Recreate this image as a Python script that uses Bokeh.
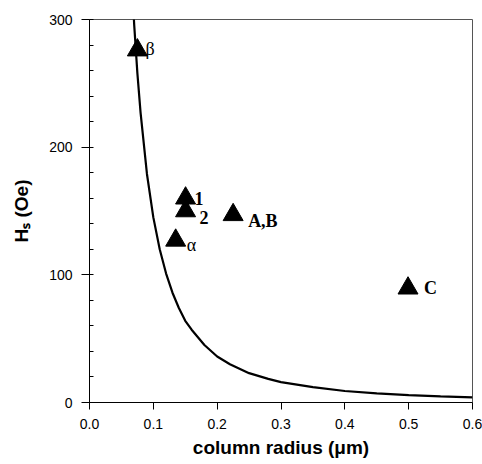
import math
from bokeh.plotting import figure
from bokeh.models import (Range1d, SingleIntervalTicker, ColumnDataSource,
                          NumeralTickFormatter)
from bokeh.core.properties import value
from bokeh.embed import file_html
from bokeh.resources import INLINE

# theoretical curve H_s(r)
curve_r = [0.065, 0.07, 0.075, 0.08, 0.09, 0.10, 0.11, 0.12, 0.13, 0.14, 0.15, 0.16,
           0.18, 0.20, 0.22, 0.25, 0.28, 0.30, 0.35, 0.40, 0.45, 0.50, 0.55, 0.60]
curve_h = [343, 296, 258, 227, 179, 145, 120, 101, 86, 74, 64, 57,
           45, 36, 30, 23, 18.5, 16, 12, 9, 7.2, 5.8, 4.8, 4.0]

# measured points
pt_r = [0.075, 0.135, 0.1505, 0.1505, 0.225, 0.499]
pt_h = [276, 127, 160, 150, 147, 89.5]
pt_label = ["β", "α", "1", "2", "A,B", "C"]

x_ticks = [0.0, 0.1, 0.2, 0.3, 0.4, 0.5, 0.6]
y_ticks = [0, 100, 200, 300]

# label styling (screen offsets)
lab_dx = [8, 11, 9, 14, 15, 16]
lab_dy = [-1, 5, 0, 6, 6, 0]
lab_style = ["normal", "normal", "bold", "bold", "bold", "bold"]

p = figure(width=482, height=464,
           min_border_left=89, min_border_right=10, min_border_top=19, min_border_bottom=62,
           x_range=Range1d(0, 0.6), y_range=Range1d(0, 300),
           output_backend="svg", toolbar_location=None)
p.grid.visible = False
p.background_fill_color = "white"
p.border_fill_color = "white"
p.outline_line_color = "#555555"
p.outline_line_width = 1

# x axis
xa = p.xaxis[0]
xa.ticker = x_ticks
xa.formatter = NumeralTickFormatter(format="0.0")
xa.major_tick_out = 7
xa.major_tick_in = 0
xa.minor_tick_out = 0
xa.minor_tick_in = 0
xa.major_label_standoff = 9
xa.major_label_text_font = "Liberation Sans"
xa.major_label_text_font_size = "14px"
xa.major_label_text_color = "black"
xa.axis_label = "column radius (μm)"
xa.axis_label_text_font = "Liberation Sans"
xa.axis_label_text_font_style = "bold"
xa.axis_label_text_font_size = "19px"
xa.axis_label_text_color = "black"
xa.axis_label_standoff = 5
xa.axis_line_color = "black"
xa.major_tick_line_color = "black"

# y axis
ya = p.yaxis[0]
ya.ticker = SingleIntervalTicker(interval=100, num_minor_ticks=5)
ya.major_tick_out = 8
ya.major_tick_in = 0
ya.minor_tick_out = 0
ya.minor_tick_in = 4
ya.major_label_standoff = 9
ya.major_label_text_font = "Liberation Sans"
ya.major_label_text_font_size = "14px"
ya.major_label_text_color = "black"
ya.axis_label = "Hₛ (Oe)"
ya.axis_label_text_font = "Liberation Sans"
ya.axis_label_text_font_style = "bold"
ya.axis_label_text_font_size = "19px"
ya.axis_label_text_color = "black"
ya.axis_label_standoff = 14
ya.axis_line_color = "black"
ya.major_tick_line_color = "black"
ya.minor_tick_line_color = "black"

# curve
p.line(curve_r, curve_h, line_color="black", line_width=2.2)

# points
src = ColumnDataSource(dict(r=pt_r, h=pt_h, lab=pt_label, dx=lab_dx, dy=lab_dy, st=lab_style))
p.scatter("r", "h", source=src, marker="triangle", size=20,
          fill_color="black", line_color="black")
p.text("r", "h", text="lab", source=src, x_offset="dx", y_offset="dy",
       text_font=value("Liberation Serif"), text_font_style="st",
       text_font_size="18px", text_color="black",
       text_align="left", text_baseline="alphabetic")

open("out.html", "w").write(file_html(p, INLINE))
